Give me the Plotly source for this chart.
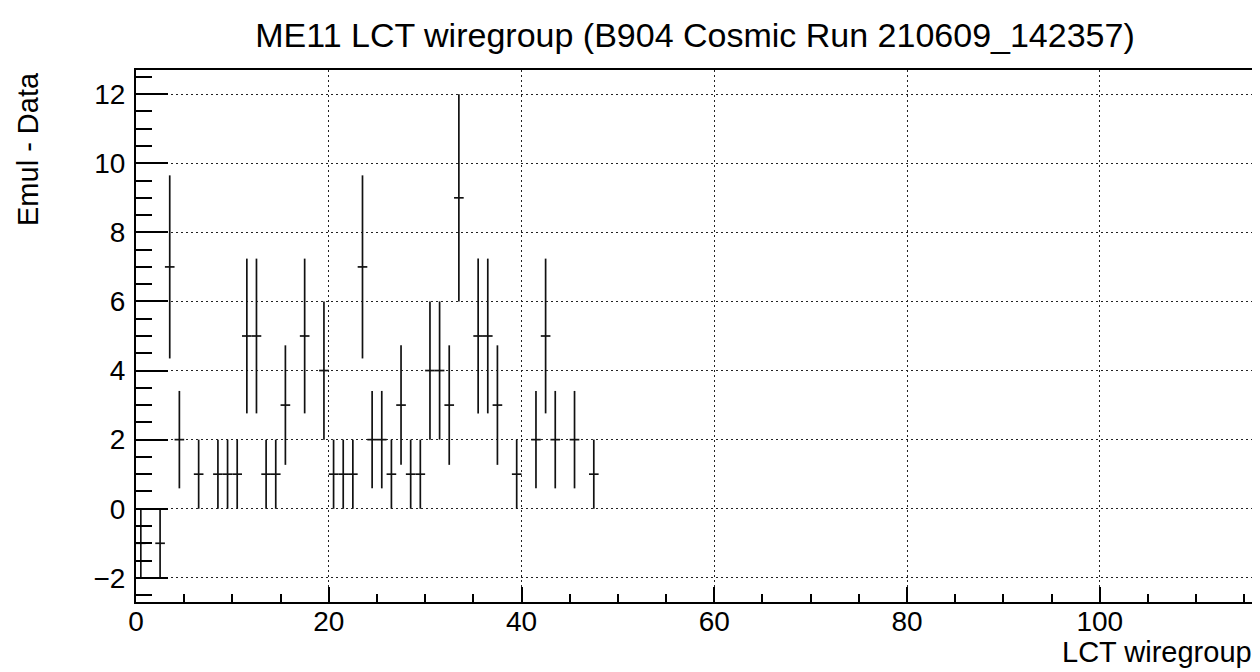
import plotly.graph_objects as go

# Bin centres (LCT wiregroup) and Emul
bin_centers = [0.5, 2.5, 3.5, 4.5, 6.5, 8.5, 9.5, 10.5, 11.5, 12.5, 13.5, 14.5, 15.5,
               17.5, 19.5, 20.5, 21.5, 22.5, 23.5, 24.5, 25.5, 26.5, 27.5, 28.5, 29.5,
               30.5, 31.5, 32.5, 33.5, 35.5, 36.5, 37.5, 39.5, 41.5, 42.5, 43.5, 45.5, 47.5]
values = [-1, -1, 7, 2, 1, 1, 1, 1, 5, 5, 1, 1, 3,
          5, 4, 1, 1, 1, 7, 2, 2, 1, 3, 1, 1,
          4, 4, 3, 9, 5, 5, 3, 1, 2, 5, 2, 2, 1]
y_errors = [1, 1, 2.65, 1.41, 1, 1, 1, 1, 2.24, 2.24, 1, 1, 1.73,
            2.24, 2, 1, 1, 1, 2.65, 1.41, 1.41, 1, 1.73, 1, 1,
            2, 2, 1.73, 3, 2.24, 2.24, 1.73, 1, 1.41, 2.24, 1.41, 1.41, 1]
bin_half_width = 0.5

x_tick_vals = [0, 20, 40, 60, 80, 100]
y_tick_vals = [-2, 0, 2, 4, 6, 8, 10, 12]

FONT = "Liberation Sans, Arial, Helvetica, sans-serif"

fig = go.Figure()
fig.add_trace(go.Scatter(
    x=bin_centers, y=values, mode="markers",
    marker=dict(size=0, color="rgba(0,0,0,0)", line=dict(width=0)),
    error_y=dict(type="data", array=y_errors, visible=True, width=0,
                 thickness=1.7, color="#111111"),
    error_x=dict(type="constant", value=bin_half_width, visible=True, width=0,
                 thickness=1.7, color="#111111"),
    showlegend=False, hoverinfo="x+y",
))

# The page adds an 8px body margin, so the figure is laid out 8px smaller.
OFF = 8
W, H = 1260 - OFF, 672 - OFF
L, R, T, B = 136 - OFF, 6, 70 - OFF, 70
plot_h = H - T - B
plot_w = W - L - R

fig.update_layout(
    width=W, height=H,
    paper_bgcolor="white", plot_bgcolor="white",
    margin=dict(l=L, r=R, t=T, b=B, pad=0),
    font=dict(family=FONT, size=27, color="black"),
    title=dict(text="ME11 LCT wiregroup (B904 Cosmic Run 210609_142357)",
               x=0.5, xref="paper", y=1 - (35 - OFF) / H, yref="container",
               xanchor="center", yanchor="middle",
               font=dict(family=FONT, size=34, color="black")),
    xaxis=dict(
        range=[0, 116], tickvals=x_tick_vals, ticktext=[str(v) for v in x_tick_vals],
        ticks="inside", ticklen=15, tickwidth=1.5, tickcolor="black",
        minor=dict(dtick=5, tick0=0, ticks="inside", ticklen=8, tickwidth=1.5,
                   tickcolor="black", showgrid=False),
        showline=True, linecolor="black", linewidth=2, mirror=True,
        showgrid=True, gridcolor="#222222", gridwidth=1.2, griddash="2px,3px",
        zeroline=False, tickfont=dict(size=28), ticklabelstandoff=-7,
        automargin=False,
    ),
    yaxis=dict(
        range=[-2.7, 12.7], tickvals=y_tick_vals,
        ticktext=[("\u22122" if v == -2 else str(v)) for v in y_tick_vals],
        ticks="inside", ticklen=32, tickwidth=1.5, tickcolor="black",
        minor=dict(dtick=0.5, tick0=0, ticks="inside", ticklen=16, tickwidth=1.5,
                   tickcolor="black", showgrid=False),
        showline=True, linecolor="black", linewidth=2, mirror=True,
        showgrid=True, gridcolor="#222222", gridwidth=1.2, griddash="2px,3px",
        zeroline=False, tickfont=dict(size=28), ticklabelstandoff=3,
        automargin=False,
    ),
    annotations=[
        dict(text="Emul - Data", textangle=-90, xref="paper", yref="paper",
             x=(28 - OFF - L) / plot_w, y=1.0, xanchor="center", yanchor="top",
             showarrow=False, font=dict(family=FONT, size=29, color="black")),
        dict(text="LCT wiregroup", xref="paper", yref="paper",
             x=1.0, y=-(652 - OFF - (T + plot_h)) / plot_h, xanchor="right", yanchor="middle",
             showarrow=False, font=dict(family=FONT, size=29, color="black")),
    ],
)

fig.write_html("out.html")
